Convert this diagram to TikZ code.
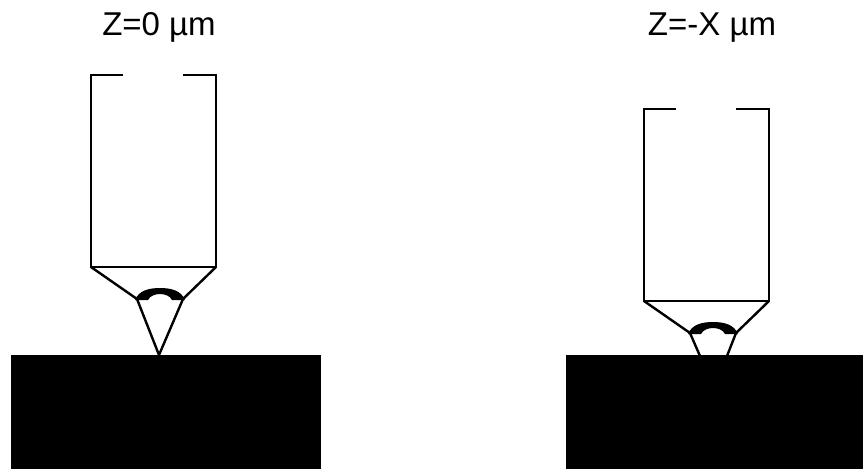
\documentclass[tikz,border=0pt]{standalone}
\usepackage{fontspec}
\setmainfont{Liberation Sans}
\begin{document}
\begin{tikzpicture}[x=1pt,y=-1pt,
  probeline/.style={line width=2.4pt,line join=miter,black},
  sample/.style={fill=black},
  label/.style={anchor=base,font=\fontsize{33}{40}\selectfont,inner sep=0pt},
  meniscus/.style={fill=black}]
\useasboundingbox (0,0) rectangle (863,469);

% samples
\fill[sample] (11,355) rectangle (321,469);
\fill[sample] (566,355) rectangle (863,469);

% labels
\node[label] (zl) at (159,35) {Z=0 µm};
\node[label] (zr) at (712,35) {Z=-X µm};

% left probe: tip touching the surface
\begin{scope}
  \coordinate (lt) at (159,355);
  \draw[probeline] (123,75) -- (91,75) -- (91,267) -- (216,267) -- (216,75) -- (183,75);
  \draw[probeline] (91,267) -- (137,299) -- (lt) -- (183,299) -- (216,267);
  \fill[meniscus] (135,300) .. controls (139,290) and (150,288) .. (160,288)
    .. controls (170,288) and (181,290) .. (185,300) -- (172,300)
    .. controls (170,296) and (165,294) .. (160,294)
    .. controls (155,294) and (150,296) .. (148,300) -- cycle;
\end{scope}

% right probe: lowered, tip pressed into the surface
\begin{scope}[shift={(553,34)}]
  \draw[probeline] (123,75) -- (91,75) -- (91,267) -- (216,267) -- (216,75) -- (183,75);
  \draw[probeline] (91,267) -- (137,299) -- (147,322);
  \draw[probeline] (216,267) -- (183,299) -- (174,322);
  \fill[meniscus] (135,300) .. controls (139,290) and (150,288) .. (160,288)
    .. controls (170,288) and (181,290) .. (185,300) -- (172,300)
    .. controls (170,296) and (165,294) .. (160,294)
    .. controls (155,294) and (150,296) .. (148,300) -- cycle;
\end{scope}
\end{tikzpicture}
\end{document}
